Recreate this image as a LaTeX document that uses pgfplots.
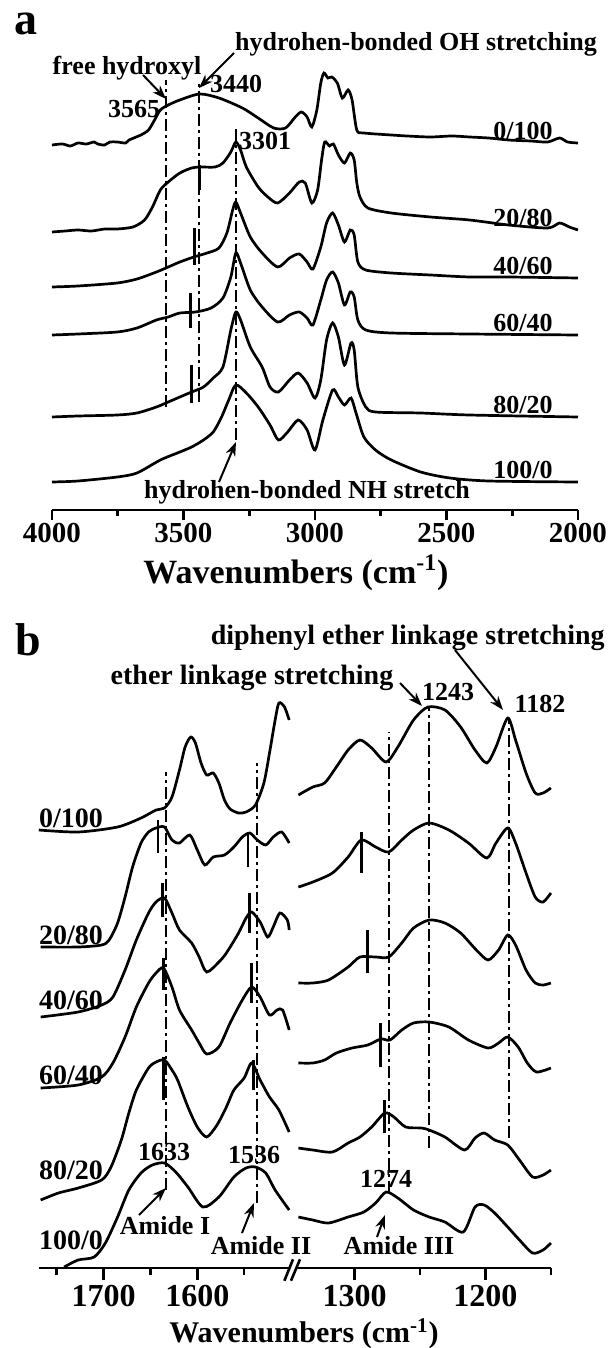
\documentclass[border=0pt]{standalone}
\usepackage{fontspec}
\setmainfont{Liberation Serif}
\usepackage{pgfplots}
\pgfplotsset{compat=1.18}
\usetikzlibrary{arrows.meta}

\pgfplotsset{
  spec/.style={
    scale only axis, axis x line=bottom, hide y axis,
    axis line style={-, line width=1.3pt},
    tick align=outside,
    major tick style={line width=1.3pt, black},
    minor tick style={line width=1.3pt, black},
    /pgf/number format/1000 sep={},
    /pgf/number format/assume math mode=true,
    clip=false,
  },
  sp/.style={black, line width=1.35pt, mark=none, smooth, tension=0.45},
  dd/.style={black, line width=1pt, mark=none, dash pattern=on 6pt off 2pt on 1.5pt off 2pt},
  tk/.style={black, line width=1.4pt, mark=none},
}
\tikzset{
  ann/.style={font=\fontsize{13}{15}\selectfont\bfseries, inner sep=0pt},
  annb/.style={font=\fontsize{14}{16}\selectfont\bfseries, inner sep=0pt},
  big/.style={font=\fontsize{23}{25}\selectfont\bfseries, inner sep=0pt},
  ttl/.style={font=\fontsize{17}{19}\selectfont\bfseries, inner sep=0pt},
  arr/.style={line width=1pt, -{Stealth[length=7pt,width=5pt]}},
}

\begin{document}
\begin{tikzpicture}
\useasboundingbox (0,0) rectangle (305pt,-674pt);

% ---------------- panel a ----------------
\begin{axis}[spec,
  at={(26pt,-255pt)}, anchor=south west,
  width=263pt, height=235pt,
  xmin=2000, xmax=4000, x dir=reverse, ymin=0, ymax=470,
  xtick={2000,2500,3000,3500,4000}, minor xtick={2250,2750,3250,3750},
  major tick length=5pt, minor tick length=3pt,
  xticklabel style={font=\fontsize{14.5}{16}\selectfont\bfseries},
  xticklabel shift=-2pt,
]
% 0/100
\addplot[sp] coordinates {(4000,365)(3960,366)(3930,364)(3901,367)(3870,366)(3840,368)(3826,366)(3800,365)(3780,368)(3752,368)(3720,367)(3707,370)(3662,375)(3633,380)(3610,390)(3588,400)(3558,405)(3514,410)(3439,416)(3365,412)(3276,402)(3216,392)(3157,382)(3112,382)(3075,393)(3052,398)(3030,393)(3012,383)(2993,400)(2978,427)(2966,437)(2951,432)(2936,433)(2915,427)(2896,412)(2874,420)(2859,410)(2841,380)(2814,377)(2710,375)(2650,374)(2561,373)(2480,374)(2412,373)(2340,372)(2264,370)(2180,369)(2115,368)(2070,372)(2040,368)(2000,367)};
% 20/80
\addplot[sp] coordinates {(4000,278)(3950,279)(3901,280)(3850,279)(3800,281)(3752,281)(3692,283)(3648,290)(3618,303)(3588,320)(3558,328)(3514,337)(3469,342)(3439,343)(3380,343)(3350,347)(3320,358)(3301,368)(3283,360)(3261,343)(3216,323)(3179,313)(3142,307)(3097,317)(3060,328)(3037,327)(3012,307)(2990,320)(2975,350)(2963,368)(2945,364)(2930,366)(2911,355)(2888,347)(2866,357)(2851,350)(2841,327)(2829,313)(2799,302)(2710,297)(2561,293)(2412,290)(2264,285)(2115,282)(2070,287)(2033,283)(2000,280)};
% 40/60
\addplot[sp] coordinates {(4000,223)(3901,224)(3752,227)(3677,231)(3603,238)(3558,243)(3514,248)(3461,253)(3410,257)(3365,262)(3335,277)(3313,300)(3301,308)(3283,297)(3246,273)(3201,257)(3142,243)(3097,252)(3060,256)(3030,248)(3008,241)(2978,263)(2956,287)(2933,297)(2911,285)(2888,268)(2866,280)(2851,275)(2837,248)(2807,240)(2710,237)(2561,235)(2412,233)(2264,233)(2000,232)};
% 60/40
\addplot[sp] coordinates {(4000,175)(3901,176)(3752,178)(3677,182)(3603,190)(3558,193)(3514,197)(3454,198)(3395,202)(3350,212)(3320,233)(3301,257)(3283,247)(3246,220)(3201,203)(3142,188)(3097,195)(3060,198)(3030,192)(3008,185)(2978,210)(2956,230)(2933,238)(2911,227)(2888,205)(2866,218)(2851,213)(2837,190)(2807,180)(2710,177)(2412,176)(2000,175)};
% 80/20
\addplot[sp] coordinates {(4000,93)(3901,94)(3752,95)(3677,97)(3603,103)(3558,108)(3514,113)(3469,118)(3424,123)(3387,132)(3350,143)(3320,180)(3301,198)(3283,190)(3246,163)(3201,143)(3171,123)(3139,118)(3097,130)(3064,137)(3030,127)(3000,112)(2978,130)(2956,170)(2933,187)(2911,173)(2888,145)(2863,167)(2851,160)(2837,123)(2807,103)(2770,98)(2598,97)(2412,95)(2000,93)};
% 100/0
\addplot[sp] coordinates {(4000,28)(3901,29)(3752,33)(3677,37)(3588,50)(3514,58)(3469,63)(3424,70)(3387,78)(3357,92)(3328,110)(3301,125)(3261,117)(3216,103)(3171,85)(3139,70)(3104,78)(3064,90)(3030,80)(3000,60)(2970,90)(2933,120)(2911,113)(2888,105)(2863,112)(2844,97)(2814,73)(2770,60)(2710,50)(2598,38)(2487,32)(2338,29)(2000,28)};
% reference lines
\addplot[dd] coordinates {(3565,103)(3565,430)};
\addplot[dd] coordinates {(3440,108)(3440,427)};
\addplot[dd] coordinates {(3301,70)(3301,382)};
\addplot[tk] coordinates {(3440,320)(3440,345)};
\addplot[tk] coordinates {(3459,245)(3459,282)};
\addplot[tk] coordinates {(3474,182)(3474,217)};
\addplot[tk] coordinates {(3470,107)(3470,145)};
\end{axis}

% ---------------- panel b left ----------------
\begin{axis}[spec,
  at={(19.4pt,-634pt)}, anchor=south west,
  width=125.2pt, height=334pt,
  xmin=1502, xmax=1769, x dir=reverse, ymin=0, ymax=668,
  xtick={1600,1700}, minor xtick={1550,1650,1750},
  major tick length=6pt, minor tick length=3.5pt,
  xticklabel style={font=\fontsize{16}{18}\selectfont\bfseries},
  xticklabel shift=-1pt,
]
\addplot[sp] coordinates {(1769,438)(1727,436)(1685,441)(1660,450)(1644,458)(1635,460)(1627,471)(1619,498)(1613,521)(1607,531)(1602,525)(1596,505)(1590,493)(1583,495)(1577,485)(1571,468)(1565,459)(1556,455)(1548,456)(1538,463)(1529,485)(1523,515)(1517,548)(1513,565)(1507,561)(1502,548)};
\addplot[sp] coordinates {(1767,321)(1727,321)(1702,323)(1694,328)(1685,345)(1677,371)(1669,401)(1660,425)(1652,436)(1644,440)(1635,441)(1627,428)(1619,425)(1608,433)(1600,418)(1592,403)(1583,411)(1571,413)(1561,421)(1552,431)(1544,435)(1536,428)(1527,423)(1519,431)(1510,436)(1502,425)};
\addplot[sp] coordinates {(1767,251)(1727,256)(1702,263)(1690,271)(1677,298)(1665,328)(1652,355)(1644,366)(1635,370)(1627,355)(1619,338)(1606,325)(1598,311)(1590,296)(1577,306)(1569,315)(1556,335)(1548,350)(1542,356)(1533,346)(1525,331)(1519,341)(1512,355)(1504,348)(1502,338)};
\addplot[sp] coordinates {(1767,180)(1727,183)(1702,191)(1690,205)(1677,231)(1665,261)(1652,285)(1644,295)(1636,300)(1627,281)(1619,258)(1606,238)(1598,225)(1590,214)(1577,221)(1565,245)(1552,268)(1542,281)(1533,271)(1523,253)(1515,258)(1509,258)(1502,238)};
\addplot[sp] coordinates {(1767,68)(1748,75)(1727,80)(1702,88)(1692,101)(1681,128)(1673,155)(1665,178)(1652,200)(1644,206)(1635,208)(1627,198)(1621,188)(1610,161)(1600,141)(1590,131)(1579,143)(1569,161)(1561,178)(1550,190)(1542,205)(1533,188)(1523,171)(1513,158)(1502,136)};
\addplot[sp] coordinates {(1742,1)(1727,8)(1710,11)(1698,25)(1685,51)(1673,78)(1660,95)(1648,103)(1635,105)(1623,96)(1610,81)(1594,61)(1577,71)(1561,91)(1548,100)(1538,101)(1527,95)(1517,78)(1502,58)};
\addplot[dd] coordinates {(1633,78)(1633,496)};
\addplot[dd] coordinates {(1536,65)(1536,505)};
\addplot[tk] coordinates {(1642,415)(1642,448)};
\addplot[tk] coordinates {(1546,401)(1546,435)};
\addplot[tk] coordinates {(1637,351)(1637,385)};
\addplot[tk] coordinates {(1544,335)(1544,375)};
\addplot[tk] coordinates {(1636,278)(1636,310)};
\addplot[tk] coordinates {(1542,265)(1542,305)};
\addplot[tk] coordinates {(1636,168)(1636,211)};
\addplot[tk] coordinates {(1540,178)(1540,208)};
\end{axis}

% ---------------- panel b right ----------------
\begin{axis}[spec,
  at={(147.9pt,-634pt)}, anchor=south west,
  width=127.55pt, height=334pt,
  xmin=1150, xmax=1345, x dir=reverse, ymin=0, ymax=668,
  xtick={1200,1300}, minor xtick={1150,1250},
  major tick length=6pt, minor tick length=3.5pt,
  xticklabel style={font=\fontsize{16}{18}\selectfont\bfseries},
  xticklabel shift=-1pt,
]
\addplot[sp] coordinates {(1343,473)(1332,481)(1323,485)(1314,501)(1305,518)(1296,528)(1287,520)(1276,506)(1267,521)(1255,548)(1244,561)(1231,558)(1219,541)(1208,518)(1199,505)(1192,521)(1183,550)(1177,528)(1169,495)(1162,475)(1156,475)(1150,480)};
\addplot[sp] coordinates {(1343,381)(1332,386)(1317,395)(1305,411)(1295,428)(1284,421)(1274,416)(1264,428)(1255,438)(1243,445)(1228,438)(1213,425)(1199,410)(1192,425)(1183,440)(1177,425)(1169,395)(1162,371)(1156,366)(1150,375)};
\addplot[sp] coordinates {(1343,285)(1332,285)(1320,288)(1305,301)(1296,311)(1284,311)(1274,311)(1264,325)(1255,340)(1243,348)(1231,345)(1219,335)(1207,318)(1198,308)(1190,318)(1183,333)(1177,323)(1169,298)(1162,285)(1156,283)(1150,285)};
\addplot[sp] coordinates {(1343,205)(1332,205)(1323,208)(1314,215)(1302,220)(1290,223)(1280,229)(1273,228)(1264,238)(1255,245)(1243,246)(1228,241)(1213,228)(1198,220)(1190,225)(1183,231)(1175,221)(1168,205)(1161,196)(1150,200)};
\addplot[sp] coordinates {(1343,120)(1332,118)(1317,116)(1305,125)(1296,131)(1287,141)(1277,155)(1270,151)(1261,141)(1249,140)(1243,138)(1231,131)(1216,118)(1208,130)(1201,135)(1193,128)(1183,123)(1174,108)(1164,91)(1156,93)(1150,98)};
\addplot[sp] coordinates {(1343,51)(1332,48)(1320,45)(1305,51)(1293,56)(1284,65)(1276,76)(1267,70)(1255,58)(1243,51)(1231,46)(1217,36)(1208,61)(1201,63)(1193,55)(1183,41)(1174,28)(1164,15)(1156,18)(1150,25)};
\addplot[dd] coordinates {(1274,75)(1274,536)};
\addplot[dd] coordinates {(1243,120)(1243,561)};
\addplot[dd] coordinates {(1182,130)(1182,550)};
\addplot[tk] coordinates {(1295,395)(1295,436)};
\addplot[tk] coordinates {(1290,295)(1290,338)};
\addplot[tk] coordinates {(1280,201)(1280,245)};
\addplot[tk] coordinates {(1277,135)(1277,168)};
\end{axis}

% ---------------- annotations (pixel grid) ----------------
\begin{scope}[x=0.5pt, y=-0.5pt]
\node[big] at (26,24) {a};
\node[ann] at (416,44) {hydrohen-bonded OH stretching};
\node[ann] at (127,68) {free hydroxyl};
\draw[arr] (143,75) -- (166,99);
\draw[arr] (234,53) -- (199,88);
\node[ann] at (134,109) {3565};
\node[ann] at (236,84) {3440};
\node[ann] at (265,141) {3301};
\node[ann] at (523,131) {0/100};
\node[ann] at (523,218) {20/80};
\node[ann] at (523,266) {40/60};
\node[ann] at (523,323) {60/40};
\node[ann] at (523,405) {80/20};
\node[ann] at (523,470) {100/0};
\node[ann] at (307,492) {hydrohen-bonded NH stretch};
\draw[arr] (219,482) -- (236,442);
\node[ttl] at (296,573) {Wavenumbers (cm\textsuperscript{-1})};

\node[big] at (28,640) {b};
\node[annb, anchor=east] at (605,638) {diphenyl ether linkage stretching};
\node[annb] at (252,678) {ether linkage stretching};
\draw[arr] (400,683) -- (422,706);
\draw[arr] (455,650) -- (503,710);
\node[ann] at (448,692) {1243};
\node[ann] at (540,704) {1182};
\node[annb] at (71,818) {0/100};
\node[annb] at (71,935) {20/80};
\node[annb] at (71,1000) {40/60};
\node[annb] at (71,1075) {60/40};
\node[annb] at (71,1170) {80/20};
\node[annb] at (71,1240) {100/0};
\node[ann] at (164,1152) {1633};
\node[ann] at (254,1155) {1536};
\node[ann] at (386,1179) {1274};
\node[ann] at (165,1226) {Amide I};
\node[ann] at (261,1246) {Amide II};
\node[ann] at (399,1246) {Amide III};
\draw[arr] (139,1215) -- (166,1188);
\draw[arr] (242,1233) -- (254,1203);
\draw[arr] (377,1237) -- (385,1215);
\draw[line width=1.3pt] (284.4,1280.7) -- (293,1259.3);
\draw[line width=1.3pt] (291,1280.7) -- (300,1259.3);
\node[ttl, font=\fontsize{15}{17}\selectfont\bfseries] at (304,1334) {Wavenumbers (cm\textsuperscript{-1})};
\end{scope}
\end{tikzpicture}
\end{document}
